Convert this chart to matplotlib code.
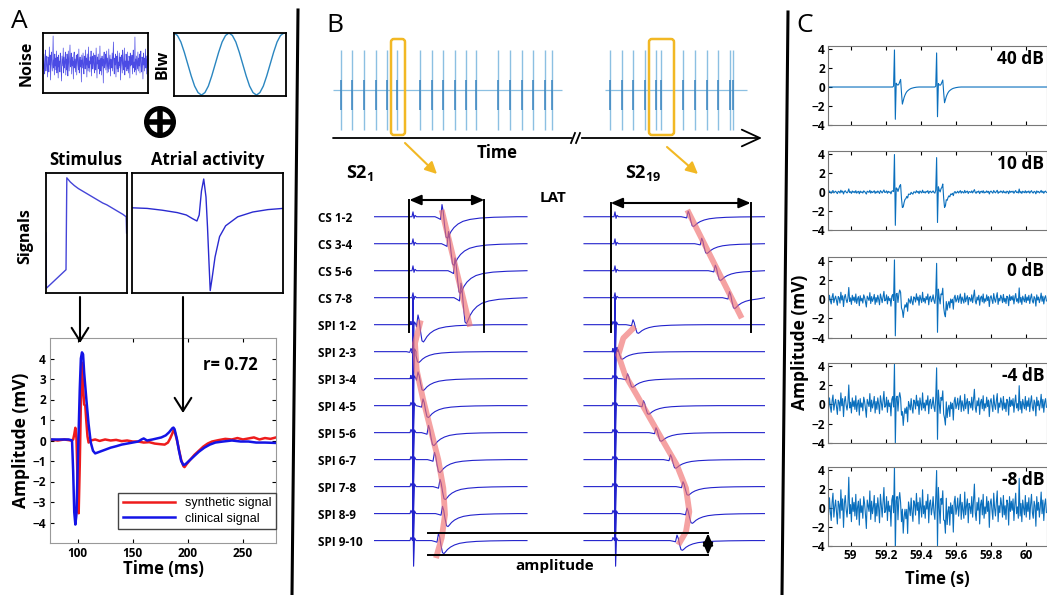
import numpy as np
import matplotlib
matplotlib.use('Agg')
import matplotlib.pyplot as plt
from matplotlib.patches import Circle, FancyBboxPatch

plt.rcParams['font.family'] = ['Open Sans', 'DejaVu Sans']
plt.rcParams['mathtext.fontset'] = 'custom'
plt.rcParams['mathtext.bf'] = 'Open Sans:bold'
plt.rcParams['mathtext.rm'] = 'Open Sans'

# ---------------- panel A data ----------------
noise = [0.2, -0.6, 0.9, -0.3, -1.1, 0.5, 1.3, -0.8, 0.1, 0.7,
         -0.4, -1.4, 0.6, 0.3, -0.9, 1.6, -0.2, 0.8, -1.7, 0.4,
         1.1, -0.1, -0.8, 0.2, 2.7, -0.5, 0.3, -1.2, 0.9, -0.3,
         0.5, -0.7, 1.2, -1.0, 0.1, 0.6, -1.5, 0.8, -0.4, 0.2,
         -0.9, 1.0, 0.4, -0.6, -1.8, 0.7, 0.2, -0.3, 1.5, -1.0,
         0.6, -0.5, 0.1, 1.1, -1.2, 0.4, -0.7, 0.9, 0.0, -1.3,
         1.2, 0.3, -0.8, 0.5, 1.8, -0.4, -0.2, 1.0, -1.1, 0.6,
         -0.3, 0.2, -1.6, 0.7, 1.1, -0.5, 0.4, -0.9, 0.3, 0.8,
         -1.2, 0.5, 0.9, -0.2, -0.7, 1.4, -1.0, 0.1, 0.6, -0.4,
         0.3, -1.9, 0.8, 0.2, -0.5, 1.0, -0.3, -1.1, 0.7, 0.4,
         -0.6, 1.3, -0.2, 0.5, -1.4, 0.9, 0.1, -0.8, 1.6, -0.5,
         0.2, -0.9, 0.6, -0.1, 1.2, -1.3, 0.4, 0.7, -0.6, 0.0,
         1.0, -0.4, -1.0, 0.8, 0.3, -0.7, 1.5, -0.2, -1.5, 0.6,
         -0.1, 0.9, -0.6, 0.3, -1.1, 1.7, -0.8, 0.2, 0.5, -1.2,
         0.7, -0.3, 0.4, -2.0, 0.6, 1.1, -0.5, 0.0, 0.9, -0.7,
         0.3, 1.2, -1.0, 0.5, -0.2, -0.9, 1.4, -0.6, 0.2, 0.8,
         -1.3, 0.4, 0.1, -0.5, 1.0, -0.8, 0.6, 2.1, -0.4, -1.1,
         0.5, -0.2, 0.9, -1.4, 0.3, 0.7, -0.6, 1.2, -0.9, 0.1,
         -0.5, 1.0, -0.3, 0.6, -1.7, 0.4, 0.8, -0.2, -1.0, 1.3,
         0.0, -0.7, 0.5, 1.5, -1.2, 0.2, -0.4, 0.9, 0.3, -0.8,
         1.1, -0.6, 0.2, -1.0, 0.7, 0.4, -1.5, 1.0, -0.3, 0.6,
         -0.2, 0.8, -1.1, 0.3, 1.3, -0.5, 0.1, -0.9, 2.6, -0.7,
         0.4, -1.2, 0.7, 0.0, -0.6, 1.1, -0.8, 0.5, -0.3, 0.9,
         -1.0, 0.3, 1.2, -0.4, -0.9, 0.6, 0.2, -1.6, 1.0, -0.2,
         0.5, -0.8, 0.1, 1.4, -0.5, 0.7, -1.1, 0.3, 0.8, -0.4]

blw = [1.0, 0.92, 0.71, 0.38, 0.0, -0.38, -0.71, -0.92, -1.0, -0.92, -0.71,
       -0.38, 0.0, 0.38, 0.71, 0.92, 1.0, 0.92, 0.71, 0.38, 0.0, -0.38,
       -0.71, -0.92, -1.0, -0.92, -0.71, -0.38, 0.0, 0.38, 0.71, 0.92, 1.0]

stim_x = [0.0, 0.005, 0.247, 0.257, 0.30, 0.35, 0.40, 0.45, 0.50, 0.55, 0.60,
          0.65, 0.70, 0.75, 0.80, 0.85, 0.90, 0.95, 0.99, 0.995]
stim_y = [0.5, 0.04, 0.194, 0.96, 0.925, 0.895, 0.87, 0.85, 0.83, 0.81, 0.79,
          0.77, 0.75, 0.735, 0.715, 0.695, 0.675, 0.655, 0.635, 0.5]

atr_x = [0.0, 0.1, 0.2, 0.3, 0.36, 0.40, 0.43, 0.445, 0.46, 0.475, 0.49,
         0.50, 0.51, 0.518, 0.53, 0.55, 0.58, 0.62, 0.7, 0.8, 0.9, 1.0]
atr_y = [0.71, 0.705, 0.69, 0.67, 0.65, 0.62, 0.60, 0.65, 0.85, 0.95, 0.8,
         0.55, 0.25, 0.02, 0.12, 0.3, 0.47, 0.56, 0.635, 0.675, 0.695, 0.705]

synthetic = [(75, 0.05), (82, 0.0), (88, 0.05), (94, 0.0), (96, 0.05), (97, 0.3),
             (98, 0.62), (99, 0.1), (100, -2.0), (101, -3.55), (102, -1.2),
             (103, 1.8), (104, 3.8), (105, 2.6), (106, 1.75), (107, 1.7),
             (108, 0.9), (109, 0.2), (110, -0.1), (112, 0.0), (116, 0.05),
             (120, -0.02), (125, 0.05), (130, 0.0), (135, 0.03), (140, -0.03),
             (145, 0.0), (150, -0.05), (155, -0.05), (160, -0.1), (165, -0.08),
             (170, -0.15), (175, -0.18), (179, -0.2), (182, -0.1), (184, 0.1),
             (186, 0.35), (187, 0.5), (188, 0.45), (190, 0.05), (192, -0.45),
             (194, -0.95), (196, -1.25), (197, -1.3), (199, -1.15), (202, -0.95),
             (206, -0.7), (210, -0.5), (214, -0.3), (218, -0.15), (222, -0.05),
             (228, 0.02), (234, 0.08), (240, 0.05), (245, 0.12), (250, 0.05),
             (255, 0.1), (260, 0.15), (265, 0.05), (270, 0.12), (275, 0.08),
             (280, 0.15)]
clinical = [(75, 0.05), (85, 0.05), (92, 0.05), (95, 0.0), (96, -1.5), (97, -3.5),
            (98, -4.1), (99, -3.6), (100, -1.5), (101, 0.5), (102, 2.5),
            (103, 4.0), (104, 4.3), (105, 4.2), (106, 3.3), (108, 2.0),
            (110, 0.8), (112, -0.1), (114, -0.5), (116, -0.63), (120, -0.55),
            (125, -0.45), (130, -0.35), (135, -0.28), (140, -0.2), (145, -0.15),
            (150, -0.1), (155, -0.05), (158, 0.05), (160, 0.1), (163, 0.0),
            (168, 0.05), (172, 0.1), (176, 0.15), (180, 0.25), (183, 0.4),
            (186, 0.6), (187, 0.63), (188, 0.55), (190, 0.1), (192, -0.5),
            (194, -1.0), (196, -1.2), (198, -1.15), (201, -1.0), (205, -0.8),
            (210, -0.55), (215, -0.35), (220, -0.2), (225, -0.1), (232, -0.05),
            (240, 0.0), (248, -0.05), (255, -0.05), (262, -0.1), (270, -0.1),
            (280, -0.12)]
r_value = 0.72

# ---------------- panel B data ----------------
channels = ['CS 1-2', 'CS 3-4', 'CS 5-6', 'CS 7-8', 'SPI 1-2', 'SPI 2-3', 'SPI 3-4',
            'SPI 4-5', 'SPI 5-6', 'SPI 6-7', 'SPI 7-8', 'SPI 8-9', 'SPI 9-10']
train_a = [10.7, 22.3, 34, 45.7, 57.3, 67.3, 90, 101.7, 113.3, 125, 136, 145.7,
           168.3, 180, 191.7, 203.3, 215, 222.3]
train_b = [280, 291.7, 303.3, 315, 326, 330.7, 353.3, 365, 376.7, 388.3, 400, 402.7]
train_a_span = (3, 232)
train_b_span = (275, 417)

stim_s2_1 = 39
stim_s2_19 = 241
span_s2_1 = (0, 153)
span_s2_19 = (210, 391)
lat_s2_1 = [68, 74.5, 81, 87, 44, 39.5, 44, 49, 54.5, 60.5, 66, 68.5, 64.5]
lat_s2_19 = [314.2, 327.7, 341.3, 355.5, 259, 243, 253.5, 269.5, 282, 296.5, 309, 313, 303]
amp_s2_1 = [1.0, 1.0, 1.05, 1.2, 0.8, 0.5, 0.55, 0.55, 0.6, 0.6, 0.6, 0.6, 0.6]
amp_s2_19 = [0.45, 0.45, 0.45, 0.5, 0.4, 0.35, 0.4, 0.4, 0.4, 0.4, 0.4, 0.45, 0.45]

egm_dt = [-7, -4, -1.5, 0, 1.2, 2.5, 4, 5.5, 7, 9, 12, 16, 21, 28, 38, 52, 75]
egm_v = [0, -0.05, -0.1, 0.45, 0.2, -0.3, -0.75, -0.8, -0.7, -0.55, -0.4, -0.27,
         -0.17, -0.1, -0.05, -0.02, 0]
cs_pace_dt = [-1, 0, 1, 2, 3.5]
cs_pace_v = [0, 0.18, -0.06, 0.05, 0]
spi_pace_dt = [-3, -2, -1.2, -0.5, 0, 0.6, 1.5, 3]
spi_pace_v = [0, 0.12, 0.05, 0, 1.0, -0.95, 0.1, 0]

path_cs_1 = [(67.7, -0.25), (96, 4.07)]
path_spi_1 = [(46.7, 3.84), (41, 4.69), (42.7, 5.69), (49.3, 6.8), (57.7, 8.04),
              (64.3, 9.0), (69.3, 10.06), (71, 11.04), (67.7, 11.9), (62, 12.65)]
path_cs_19 = [(313.3, -0.25), (367.7, 3.76)]
path_spi_19 = [(261, 4.07), (249.3, 4.5), (244.3, 5.12), (251, 5.86), (262.7, 6.6),
               (276, 7.47), (289.3, 8.33), (302.7, 9.19), (312, 10.06),
               (315.3, 10.93), (312, 11.67), (304.3, 12.16)]

# ---------------- panel C data ----------------
snr_db = [40, 10, 0, -4, -8]
noise_gain = [0.0, 0.12, 0.45, 0.75, 1.2]
t_start, t_step = 58.87, 0.005
pace_times = [59.25, 59.49]
pace_gain = [1.0, 0.92]
egm_c = [0.1, 3.9, -3.4, 0.4, 0.25, 0.2, 0.3, 0.55, 0.8, -0.6, -1.8, -1.45, -1.1,
         -0.85, -0.65, -0.5, -0.4, -0.32, -0.25, -0.2, -0.15, -0.12, -0.09,
         -0.07, -0.05, -0.03, -0.02, -0.01]

# ---------------- figure ----------------
W, H = 1047, 595
fig = plt.figure(figsize=(W / 100, H / 100), dpi=100)


def px_axes(x0, y0, x1, y1):
    return fig.add_axes([x0 / W, 1 - y1 / H, (x1 - x0) / W, (y1 - y0) / H])


def box_only(ax, lw=1.3, color='k'):
    ax.set_xticks([])
    ax.set_yticks([])
    for s in ax.spines.values():
        s.set_linewidth(lw)
        s.set_color(color)


def bold_ticks(ax, size=8):
    for lab in ax.get_xticklabels() + ax.get_yticklabels():
        lab.set_fontweight('bold')
        lab.set_fontsize(size)


# ---- panel A ----
ax = px_axes(43, 33, 148, 93)
ax.plot(noise, color='#2b2be0', lw=0.5, alpha=0.85)
ax.set_xlim(0, len(noise) - 1)
ax.set_ylim(-3, 3)
box_only(ax)

ax = px_axes(174, 33, 286, 96)
ax.plot(blw, color='#2a86c0', lw=1.0)
ax.set_xlim(0, 32.6)
ax.set_ylim(-1.03, 1.0)
box_only(ax)

ax = px_axes(46, 173, 127, 293)
ax.plot(stim_x, stim_y, color='#4545d8', lw=1.0)
ax.set_xlim(0, 1)
ax.set_ylim(0, 1)
box_only(ax)

ax = px_axes(132, 173, 283, 293)
ax.plot(atr_x, atr_y, color='#2a2ad0', lw=1.0)
ax.set_xlim(0, 1)
ax.set_ylim(0, 1)
box_only(ax)

ax = px_axes(50, 338, 276, 543)
ts, vs = zip(*synthetic)
tc, vc = zip(*clinical)
ax.plot(ts, vs, color='#ee1c1c', lw=1.8, label='synthetic signal')
ax.plot(tc, vc, color='#1414e6', lw=1.8, label='clinical signal')
ax.set_xlim(75, 280)
ax.set_ylim(-5, 5)
ax.set_xticks([100, 150, 200, 250])
ax.set_yticks(range(-4, 5))
ax.tick_params(direction='in', length=3, top=True, right=True, pad=3, colors='k')
for s in ax.spines.values():
    s.set_color('#999999')
bold_ticks(ax, 8.5)
ax.legend(loc='lower right', bbox_to_anchor=(1.0, 14 / 205), borderaxespad=0,
          fancybox=False, edgecolor='#444444', framealpha=1, handlelength=4.2,
          prop={'family': 'Liberation Sans', 'size': 9}, borderpad=0.35,
          labelspacing=0.3)
ax.set_xlabel('Time (ms)', fontsize=12, fontweight='bold', labelpad=0)
ax.set_ylabel('Amplitude (mV)', fontsize=12.5, fontweight='bold', labelpad=2)
ax.text(0.8, 0.87, 'r= %.2f' % r_value, transform=ax.transAxes, fontsize=12,
        fontweight='bold', ha='center', va='center')

# ---- panel B: pacing trains ----
ax = px_axes(330, 35, 765, 140)
for tr, span in [(train_a, train_a_span), (train_b, train_b_span)]:
    ax.hlines(0, span[0], span[1], color='#8cc0e2', lw=0.9)
    ax.vlines(tr, -1, 1, color='#8cc0e2', lw=1.0)
    ax.vlines(tr, -0.5, 0.25, color='#3a85c0', lw=1.1)
ax.set_xlim(0, 435)
ax.set_ylim(-1.25, 1.375)
ax.axis('off')

# ---- panel B: electrograms ----
ax = px_axes(374, 190, 765, 570)


def trace(i, stim_t, span, lat, amp):
    if channels[i].startswith('CS'):
        pdt, pv = cs_pace_dt, cs_pace_v
    else:
        pdt, pv = spi_pace_dt, spi_pace_v
    xs = [span[0]] + [stim_t + d for d in pdt] + [lat + d for d in egm_dt] + [span[1]]
    vs = [0] + list(pv) + [amp * v for v in egm_v] + [0]
    xs = np.array(xs)
    vs = np.array(vs)
    keep = (xs >= span[0]) & (xs <= span[1])
    xs, vs = xs[keep], vs[keep]
    order = np.argsort(xs, kind='stable')
    ax.plot(xs[order], i - vs[order], color='#2222cc', lw=0.8, zorder=2)


for i in range(len(channels)):
    trace(i, stim_s2_1, span_s2_1, lat_s2_1[i], amp_s2_1[i])
    trace(i, stim_s2_19, span_s2_19, lat_s2_19[i], amp_s2_19[i])

for path in [path_cs_1, path_spi_1, path_cs_19, path_spi_19]:
    px, py = zip(*path)
    ax.plot(px, py, color='#f07070', lw=4.2, alpha=0.65, zorder=3,
            solid_capstyle='butt')

ax.set_xlim(0, 391)
ax.set_ylim(13.09, -0.99)
ax.set_xticks([])
ax.set_yticks(range(len(channels)))
ax.set_yticklabels(channels)
ax.tick_params(axis='y', length=0, pad=40.3)
for lab in ax.get_yticklabels():
    lab.set_horizontalalignment('left')
    lab.set_fontweight('bold')
    lab.set_fontsize(8.5)
for s in ax.spines.values():
    s.set_visible(False)
ax.patch.set_alpha(0)

# ---- panel C ----
c_boxes = [(45.7, 125), (150.7, 230), (257.3, 337.7), (362.7, 442.7), (466.7, 546)]
n = len(noise)
t = t_start + t_step * np.arange(n)
for k, (db, g) in enumerate(zip(snr_db, noise_gain)):
    y0, y1 = c_boxes[k]
    ax = px_axes(827.7, y0, 1047.3, y1)
    y = g * np.array(noise)
    for tp, a in zip(pace_times, pace_gain):
        i0 = int(round((tp - t_start) / t_step)) - 1
        y[i0:i0 + len(egm_c)] += a * np.array(egm_c)
    ax.plot(t, y, color='#0a6fbd', lw=0.8)
    ax.set_xlim(58.87, 60.12)
    ax.set_ylim(-4, 4.35)
    ax.set_yticks([-4, -2, 0, 2, 4])
    ax.set_xticks([59, 59.2, 59.4, 59.6, 59.8, 60])
    ax.tick_params(direction='in', length=3, top=True, pad=2)
    if k < len(snr_db) - 1:
        ax.set_xticklabels([])
    else:
        ax.set_xticklabels(['59', '59.2', '59.4', '59.6', '59.8', '60'])
    for s in ax.spines.values():
        s.set_color('#777777')
    bold_ticks(ax, 8.5)
    ax.text(0.985, 0.835, '%d dB' % db, transform=ax.transAxes, ha='right',
            va='center', fontsize=12.5, fontweight='bold')
    if k == len(snr_db) - 1:
        ax.set_xlabel('Time (s)', fontsize=12, fontweight='bold', labelpad=6)

# ---------------- overlay annotations ----------------
ov = fig.add_axes([0, 0, 1, 1])
ov.set_xlim(0, W)
ov.set_ylim(H, 0)
ov.axis('off')

ov.plot([298, 292], [10, 595], color='k', lw=2.2)
ov.plot([788, 782], [12, 595], color='k', lw=2.2)
for s, x, y in [('A', 19, 21), ('B', 335, 25), ('C', 805, 26)]:
    ov.text(x, y, s, fontsize=19, ha='center', va='center')

bold = dict(fontweight='bold', ha='center', va='center')
ov.text(27, 63, 'Noise', rotation=90, fontsize=11.5, **bold)
ov.text(163, 64, 'Blw', rotation=90, fontsize=11.5, **bold)
ov.text(86, 160, 'Stimulus', fontsize=12, **bold)
ov.text(208, 160, 'Atrial activity', fontsize=12, **bold)
ov.text(25, 236, 'Signals', rotation=90, fontsize=11.5, **bold)
ov.add_patch(Circle((160, 122), 13.5, fill=False, lw=3.6, color='k'))
ov.plot([150, 170], [122, 122], color='k', lw=4)
ov.plot([160, 160], [112, 132], color='k', lw=4)

head = dict(arrowstyle='->,head_length=0.95,head_width=0.6', lw=1.5, color='k',
            shrinkA=0, shrinkB=0, mutation_scale=10)
ov.annotate('', xy=(80, 343), xytext=(80, 297), arrowprops=head)
ov.annotate('', xy=(183, 413), xytext=(183, 297), arrowprops=head)

# time axis of panel B
ov.annotate('', xy=(762, 138), xytext=(333, 138),
            arrowprops=dict(arrowstyle='->,head_length=1.3,head_width=0.6', lw=1.3,
                            color='k', shrinkA=0, shrinkB=0, mutation_scale=10))
ov.plot([574, 579], [138, 138], color='white', lw=3, zorder=5)
ov.plot([571, 575], [143, 133], color='k', lw=1.3, zorder=6)
ov.plot([576, 580], [143, 133], color='k', lw=1.3, zorder=6)
ov.text(497, 153, 'Time', fontsize=12, **bold)
ov.text(360, 173, r'$\mathbf{S2_1}$', fontsize=13, ha='center', va='center')
ov.text(643, 173, r'$\mathbf{S2_{19}}$', fontsize=13, ha='center', va='center')

yellow = '#f2b824'
ov.add_patch(FancyBboxPatch((391, 39), 14, 96, boxstyle='round,pad=0,rounding_size=3',
                            fill=False, ec=yellow, lw=1.8))
ov.add_patch(FancyBboxPatch((649, 39), 25, 96, boxstyle='round,pad=0,rounding_size=3',
                            fill=False, ec=yellow, lw=1.8))
yarrow = dict(arrowstyle='-|>,head_length=0.7,head_width=0.35', lw=1.5, color=yellow,
              shrinkA=0, shrinkB=0, mutation_scale=10)
ov.annotate('', xy=(437, 174), xytext=(405, 143), arrowprops=yarrow)
ov.annotate('', xy=(698, 174), xytext=(667, 147), arrowprops=yarrow)

# LAT brackets
dbl = dict(arrowstyle='<|-|>,head_length=0.7,head_width=0.3', lw=1.5, color='k',
           shrinkA=0, shrinkB=0, mutation_scale=10)
for xa, xb, ya in [(409.3, 484.3, 200), (610.7, 750.7, 203)]:
    ov.plot([xa, xa], [ya, 331.7], color='k', lw=1.4)
    ov.plot([xb, xb], [ya, 331.7], color='k', lw=1.4)
    ov.annotate('', xy=(xb, ya), xytext=(xa, ya), arrowprops=dbl)
ov.text(553, 198, 'LAT', fontsize=11, **bold)

# amplitude bracket
ov.plot([428, 708], [533.3, 533.3], color='k', lw=1.4)
ov.plot([428, 708], [555, 555], color='k', lw=1.4)
ov.annotate('', xy=(708, 555), xytext=(708, 533.3), arrowprops=dbl)
ov.text(555, 566, 'amplitude', fontsize=11, **bold)

ov.text(800, 342, 'Amplitude (mV)', rotation=90, fontsize=12.5, **bold)

fig.savefig('out.png', dpi=100)
